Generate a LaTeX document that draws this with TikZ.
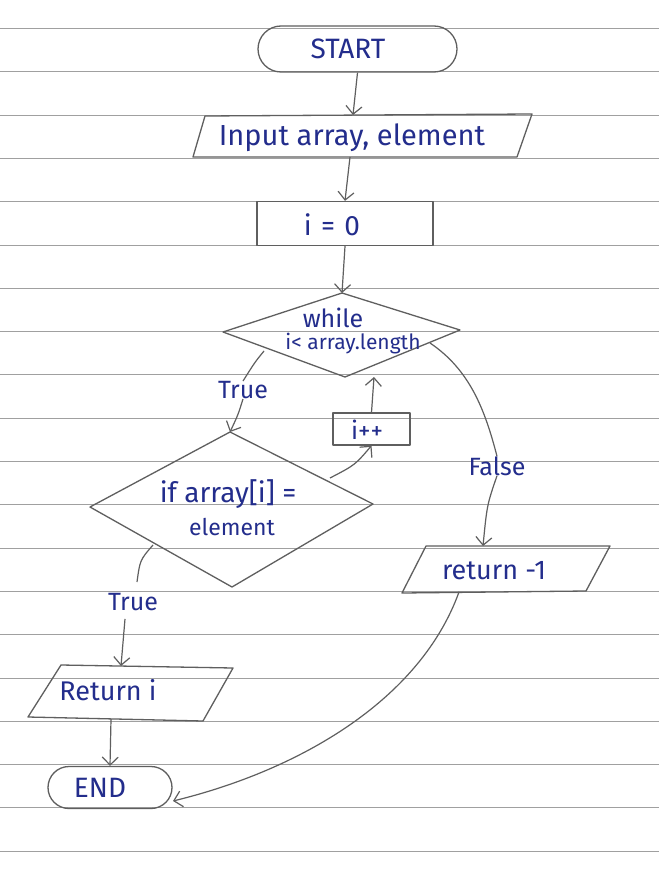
\documentclass[tikz,border=0pt]{standalone}
\usepackage{fontspec}
\setmainfont{Fira Sans}
\usetikzlibrary{arrows.meta,shapes.misc}
\definecolor{ink}{RGB}{35,45,140}
\definecolor{pencil}{RGB}{95,95,95}
\definecolor{rulecol}{RGB}{160,160,160}
\begin{document}
\begin{tikzpicture}[x=1pt,y=-1pt,
  ruleline/.style={draw=rulecol,line width=0.9pt},
  shapeline/.style={draw=pencil,line width=1.3pt,line join=round},
  arr/.style={draw=pencil,line width=1.2pt,-{Straight Barb[length=8pt,width=16pt,line width=1.2pt]}},
  conn/.style={draw=pencil,line width=1.2pt},
  txt/.style={text=ink,inner sep=0pt},
  fs/.style={font=\fontsize{#1}{#1}\selectfont}]
\useasboundingbox[fill=white] (0,0) rectangle (659,869);
% ruled paper
\foreach \k in {0,...,19} {\draw[ruleline] (0,28.5+43.3*\k) -- (659,28.5+43.3*\k);}

% START
\node[shapeline,rounded rectangle,minimum width=199pt,minimum height=46pt,inner sep=0pt] (start) at (357.5,49) {};
\node[txt,fs=28] (starttxt) at (348,49) {START};

% Input
\coordinate (inTL) at (205,116);
\coordinate (inTR) at (532,114);
\coordinate (inBR) at (517,157);
\coordinate (inBL) at (193,157);
\coordinate (inTop) at (353,115);
\coordinate (inBot) at (350,157);
\draw[shapeline] (inTL) -- (inTR) -- (inBR) -- (inBL) -- cycle;
\node[txt,fs=29] (intxt) at (352,138) {Input array, element};

% i = 0
\node[shapeline,minimum width=176pt,minimum height=44pt,inner sep=0pt] (init) at (345,223.5) {};
\node[txt,fs=28] (inittxt) at (332,225) {i\,\,=\,\,0};

% while diamond
\coordinate (wL) at (223,332);
\coordinate (wT) at (342,293);
\coordinate (wR) at (460,330);
\coordinate (wB) at (345,377);
\draw[shapeline] (wL) -- (wT) -- (wR) -- (wB) -- cycle;
\node[txt,fs=25] (whiletxt) at (333,318) {while};
\node[txt,fs=21] (condtxt) at (353,344) {i< array.length};
\coordinate (wTrue) at (264,351);
\coordinate (wFalse) at (430,343);
\coordinate (wInc) at (374,377);

% True label (upper)
\node[txt,fs=25] (true1) at (243,390) {True};

% if diamond
\coordinate (fL) at (90,507);
\coordinate (fT) at (230,432);
\coordinate (fR) at (373,504);
\coordinate (fB) at (232,587);
\draw[shapeline] (fL) -- (fT) -- (fR) -- (fB) -- cycle;
\node[txt,fs=28] (iftxt) at (228,494) {if array[i] =};
\node[txt,fs=23] (eltxt) at (232,527) {element};
\coordinate (fInc) at (330,478);
\coordinate (fTrue) at (153,545);

% i++
\node[shapeline,minimum width=77pt,minimum height=32pt,inner sep=0pt] (inc) at (371.5,429) {};
\node[txt,fs=25] (inctxt) at (367,430) {i++};

% False label
\node[txt,fs=25] (false) at (497,466) {False};

% return -1
\coordinate (rTL) at (426,546);
\coordinate (rTR) at (610,546);
\coordinate (rBR) at (586,591);
\coordinate (rBL) at (402,593);
\coordinate (rTop) at (483,546);
\coordinate (rBot) at (459,592);
\draw[shapeline] (rTL) -- (rTR) -- (rBR) -- (rBL) -- cycle;
\node[txt,fs=27] (rettxt) at (494,571) {return -1};

% True label (lower)
\node[txt,fs=25] (true2) at (133,602) {True};

% Return i
\coordinate (qTL) at (61,665);
\coordinate (qTR) at (233,668);
\coordinate (qBR) at (203,721);
\coordinate (qBL) at (28,717);
\coordinate (qTop) at (121,666);
\coordinate (qBot) at (111,719);
\draw[shapeline] (qTL) -- (qTR) -- (qBR) -- (qBL) -- cycle;
\node[txt,fs=27] (retitxt) at (108,690) {Return i};

% END
\node[shapeline,rounded rectangle,minimum width=124pt,minimum height=42pt,inner sep=0pt] (end) at (110,787.5) {};
\node[txt,fs=28] (endtxt) at (100,788) {END};
\coordinate (endR) at (173,801);

% connectors
\draw[arr] (start.south) -- (inTop);
\draw[arr] (inBot) -- (init.north);
\draw[arr] (init.south) -- (wT);
\draw[conn] (wTrue) .. controls (255,362) .. (true1.north);
\draw[arr] (true1.south) .. controls (238,415) .. (fT);
\draw[arr] (fInc) .. controls (355,465) .. (inc.south);
\draw[arr] (inc.north) -- (wInc);
\draw[conn] (wFalse) .. controls (470,370) and (485,410) .. (false.north);
\draw[arr] (false.south) .. controls (487,505) .. (rTop);
\draw[conn] (fTrue) .. controls (140,560) .. (137,582);
\draw[arr] (true2.south) ++(-8,8) -- (qTop);
\draw[arr] (qBot) -- (end.north);
\draw[arr] (rBot) .. controls (420,700) and (300,770) .. (endR);
\end{tikzpicture}
\end{document}
